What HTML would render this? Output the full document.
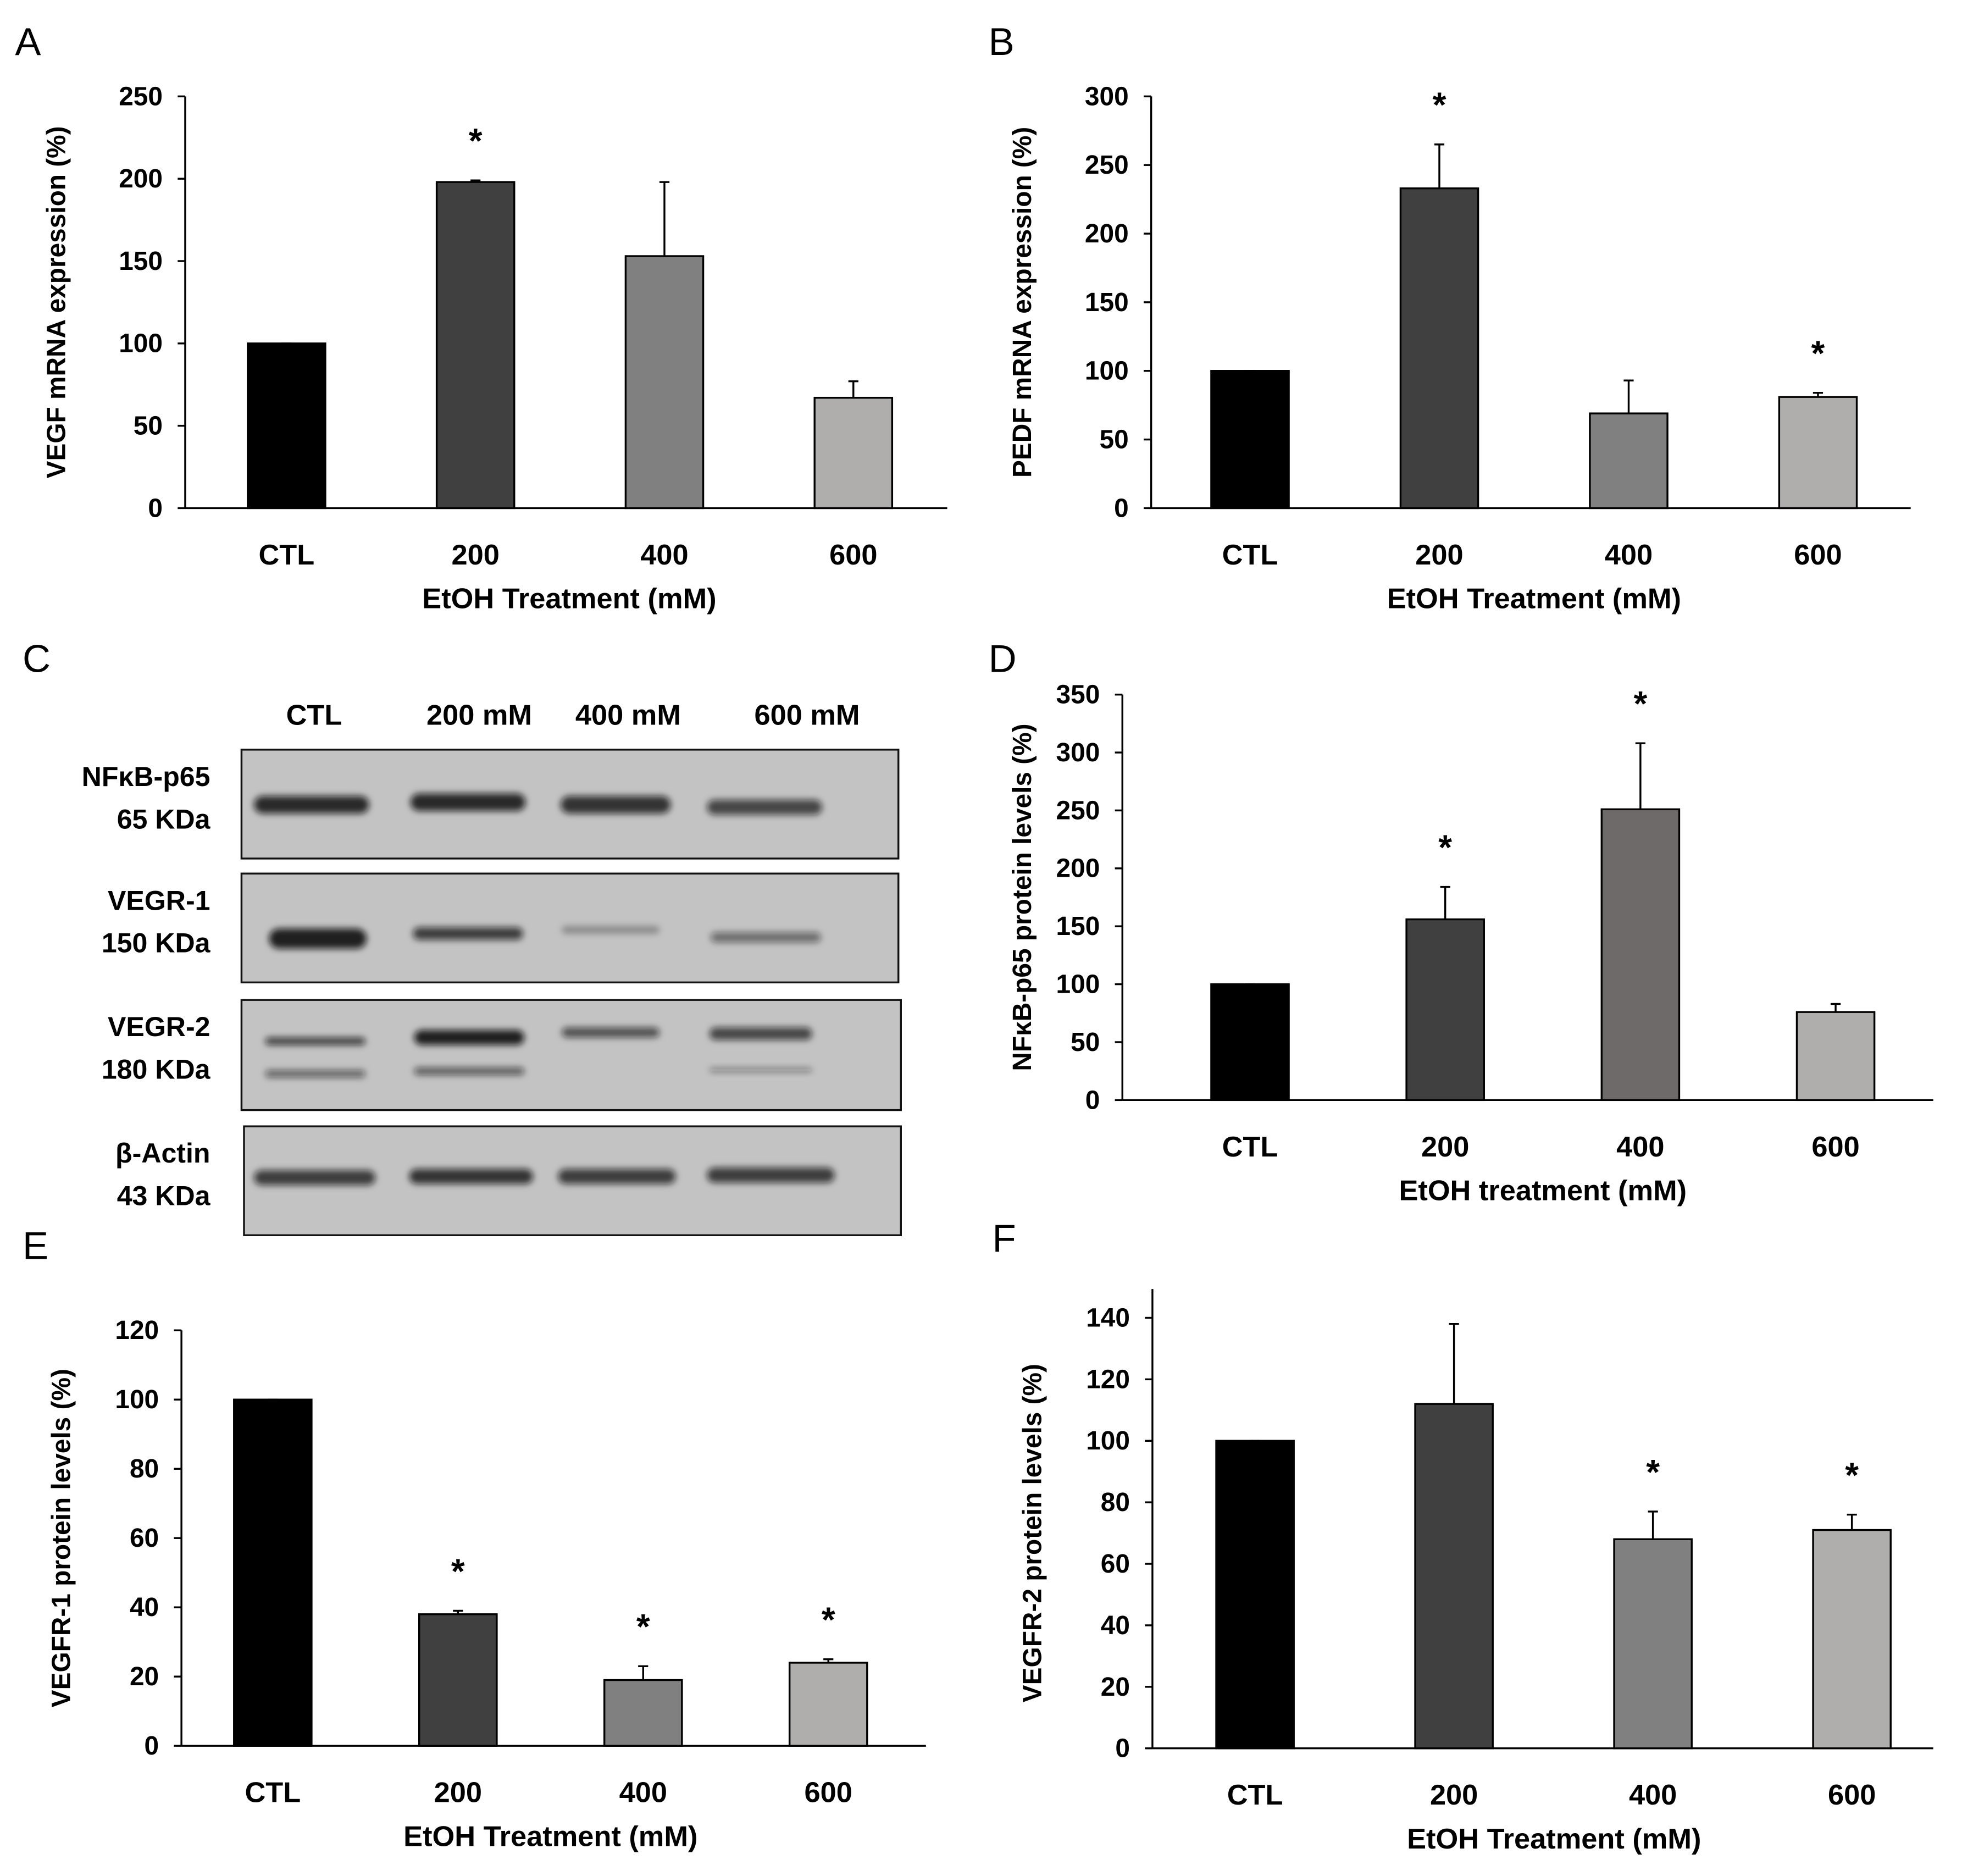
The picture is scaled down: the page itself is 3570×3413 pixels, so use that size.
<!DOCTYPE html>
<html><head><meta charset="utf-8"><style>
html,body{margin:0;padding:0;background:#fff;}
svg{display:block;}
text{font-family:"Liberation Sans",sans-serif;}
</style></head><body>
<svg id="fig" width="3570" height="3413" viewBox="0 0 1568 1499" xmlns="http://www.w3.org/2000/svg">
<defs><filter id="bl" x="-20%" y="-100%" width="140%" height="300%"><feGaussianBlur stdDeviation="2.6"/></filter></defs>
<g id="blot"></g>
</svg>
<script>
const categories=["CTL","200","400","600"];
const valsA=[100,198,153,67], errA=[100,199,198,77], starA=[0,1,0,0];
const valsB=[100,233,69,81], errB=[100,265,93,84], starB=[0,1,0,1];
const valsD=[100,156,251,76], errD=[100,184,308,83], starD=[0,1,1,0];
const valsE=[100,38,19,24], errE=[100,39,23,25], starE=[0,1,1,1];
const valsF=[100,112,68,71], errF=[100,138,77,76], starF=[0,0,1,1];
const NS="http://www.w3.org/2000/svg";
const svg=document.getElementById('fig');
function el(t,a,p){const e=document.createElementNS(NS,t);for(const k in a)e.setAttribute(k,a[k]);(p||svg).appendChild(e);return e;}
function txt(s,a,p){const e=el('text',a,p);e.textContent=s;return e;}
function chart(o){
 const g=el('g',{});
 
 
 const y=v=>o.y0-(v/o.ymax)*(o.y0-o.ytop);
 const x=i=>o.cx0+i*o.dx;
 const colors=o.colors||["#000","#404040","#808080","#b0adad"];
 for(let t=0;t<=o.ymax;t+=o.step){
  const tl=txt(String(t),{x:o.ax-18,y:y(t)+7,'text-anchor':'end','font-size':21,'font-weight':'bold',fill:'#000'},g);
  
  
  el('line',{x1:o.ax-6,x2:o.ax,y1:y(t),y2:y(t),stroke:'#000','stroke-width':1.5},g);
 }
 el('line',{x1:o.ax,x2:o.ax,y1:o.y0,y2:o.axTop||o.ytop,stroke:'#000','stroke-width':1.5},g);
 el('line',{x1:o.ax,x2:o.xend,y1:o.y0,y2:o.y0,stroke:'#000','stroke-width':1.5},g);
 o.vals.forEach((v,i)=>{
  const eb=el('line',{x1:x(i),x2:x(i),y1:y(v),y2:y(o.err[i]),stroke:'#000','stroke-width':1.5},g);
  
  
  el('line',{x1:x(i)-4,x2:x(i)+4,y1:y(o.err[i]),y2:y(o.err[i]),stroke:'#000','stroke-width':1.5},g);
  const b=el('rect',{x:x(i)-31,y:y(v),width:62,height:o.y0-y(v),fill:colors[i],stroke:'#000','stroke-width':1.5},g);
  
  
  if(o.star[i]){const s=txt('*',{x:x(i),y:y(o.err[i])-22,'text-anchor':'middle','font-size':28,'font-weight':'bold'},g);
   
   }
  const xl=txt(categories[i],{x:x(i),y:o.y0+45,'text-anchor':'middle','font-size':23,'font-weight':'bold'},g);
  
  
 });
 const xt=txt(o.xlabel,{x:o.xlx,y:o.y0+80,'text-anchor':'middle','font-size':23,'font-weight':'bold'},g);
 
 
 const yt=txt(o.ylabel,{x:0,y:0,'text-anchor':'middle','font-size':21,'font-weight':'bold',transform:`translate(${o.ylx},${(o.y0+o.ytop)/2}) rotate(-90)`},g);
 
 
 const pl=txt(o.letter,{x:o.lx,y:o.ly,'font-size':31,fill:'#000'},g);
 
 
}
chart({name:'chart-vegf-mrna',letter:'A',lx:12,ly:44,vals:valsA,err:errA,star:starA,ax:148,xend:757,y0:406,ytop:77,ymax:250,step:50,cx0:229,dx:151,xlabel:'EtOH Treatment (mM)',xlx:455,ylabel:'VEGF mRNA expression (%)',ylx:52});
chart({name:'chart-pedf-mrna',letter:'B',lx:790,ly:44,vals:valsB,err:errB,star:starB,ax:920,xend:1527,y0:406,ytop:77,ymax:300,step:50,cx0:999,dx:151.3,xlabel:'EtOH Treatment (mM)',xlx:1226,ylabel:'PEDF mRNA expression (%)',ylx:824});
chart({name:'chart-nfkb-protein',letter:'D',lx:790,ly:537,vals:valsD,err:errD,star:starD,ax:897,xend:1545,y0:879,ytop:555,ymax:350,step:50,cx0:999,dx:156,xlabel:'EtOH treatment (mM)',xlx:1233,ylabel:'NFκB-p65 protein levels (%)',ylx:824,colors:["#000","#404040","#6e6a6a","#b0adad"]});
chart({name:'chart-vegfr1-protein',letter:'E',lx:18,ly:1006,vals:valsE,err:errE,star:starE,ax:145,xend:740,y0:1395,ytop:1063,ymax:120,step:20,cx0:218,dx:148,xlabel:'EtOH Treatment (mM)',xlx:440,ylabel:'VEGFR-1 protein levels  (%)',ylx:56});
chart({name:'chart-vegfr2-protein',letter:'F',lx:793,ly:1000,vals:valsF,err:errF,star:starF,ax:921,xend:1545,y0:1397,ytop:1053,axTop:1030,ymax:140,step:20,cx0:1003,dx:159,xlabel:'EtOH Treatment (mM)',xlx:1242,ylabel:'VEGFR-2 protein levels (%)',ylx:832});
const blot=document.getElementById('blot');
const lanes=[251,383,502,645], heads=["CTL","200  mM","400 mM","600 mM"];
const cl=txt('C',{x:18,y:537,'font-size':31},blot);


heads.forEach((h,i)=>{const t=txt(h,{x:lanes[i],y:579,'text-anchor':'middle','font-size':23,'font-weight':'bold','xml:space':'preserve'},blot);
 
 });
const boxes=[[193,599,525,87,'NFκB-p65','65 KDa'],[193,698,525,87,'VEGR-1','150 KDa'],[193,799,527,88,'VEGR-2','180 KDa'],[195,900,525,87,'β-Actin','43 KDa']];
const bands=[[[203,643,92,7,0.85],[328,641,92,7,0.85],[448,643,88,7,0.8],[565,645,92,6,0.7]],
 [[215,750,78,8,0.9],[330,746,88,5,0.75],[449,743,78,3,0.3],[568,749,88,4,0.5]],
 [[212,832,80,3,0.75],[331,829,88,6,0.9],[449,825,78,4,0.65],[567,826,82,5,0.7],[212,858,80,3,0.55],[331,856,88,3,0.6],[567,855,82,2,0.35]],
 [[203,941,97,6,0.75],[327,940,99,6,0.8],[446,940,94,6,0.75],[565,939,102,6,0.75]]];
boxes.forEach((b,i)=>{
 const r=el('rect',{x:b[0],y:b[1],width:b[2],height:b[3],fill:'#c3c3c3',stroke:'#111','stroke-width':1.5},blot);
 
 
 bands[i].forEach(d=>{const e=el('rect',{x:d[0],y:d[1]-d[3],width:d[2],height:d[3]*2,rx:d[3],fill:'#111','fill-opacity':d[4],filter:'url(#bl)'},blot);
  
  });
 const l1=txt(b[4],{x:168,y:b[1]+29,'text-anchor':'end','font-size':22,'font-weight':'bold'},blot);
 
 
 const l2=txt(b[5],{x:168,y:b[1]+63,'text-anchor':'end','font-size':22,'font-weight':'bold'},blot);
 
 
});
</script>
</body></html>
